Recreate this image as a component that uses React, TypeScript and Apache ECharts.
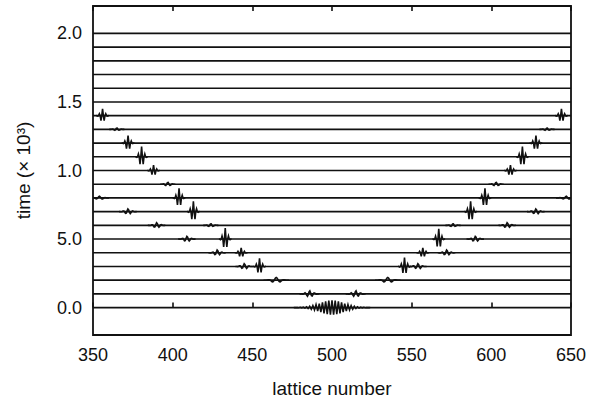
import React, { useEffect, useRef } from "react";
import * as echarts from "echarts";

// time slices (× 10³) at which the chain is drawn
const sliceTimes = [0.0, 0.1, 0.2, 0.3, 0.4, 0.5, 0.6, 0.7, 0.8, 0.9, 1.0, 1.1, 1.2, 1.3, 1.4, 1.5, 1.6, 1.7, 1.8, 1.9, 2.0];

// wave packets: slice time, centre (lattice number),
// amplitude (in time units), half width (lattice units), oscillation period (lattice units)
const packetTime = [0.0, 0.1, 0.1, 0.2, 0.2, 0.3, 0.3, 0.3, 0.3, 0.4, 0.4, 0.4, 0.4, 0.5, 0.5, 0.5, 0.5, 0.6, 0.6, 0.6, 0.6, 0.7, 0.7, 0.7, 0.7, 0.8, 0.8, 0.8, 0.8, 0.9, 0.9, 1.0, 1.0, 1.1, 1.1, 1.2, 1.2, 1.3, 1.3, 1.4, 1.4];
const packetCenter = [500, 486, 515, 465, 535, 445, 454.5, 545.5, 554, 428, 443, 557, 572, 409, 433, 567, 590, 390, 424, 576, 610, 372, 413, 587, 628, 354, 404, 596, 647, 397, 603, 388, 612, 380.5, 619.5, 372, 628, 365, 635, 356, 644];
const packetAmp = [0.052, 0.022, 0.022, 0.02, 0.02, 0.02, 0.06, 0.065, 0.02, 0.02, 0.035, 0.035, 0.02, 0.02, 0.08, 0.075, 0.02, 0.02, 0.012, 0.012, 0.02, 0.02, 0.075, 0.075, 0.02, 0.012, 0.07, 0.07, 0.012, 0.015, 0.015, 0.04, 0.04, 0.075, 0.075, 0.055, 0.055, 0.01, 0.01, 0.05, 0.05];
const packetWidth = [15, 4, 4, 5, 5, 3.5, 2.5, 2.5, 3.5, 3.5, 2.5, 2.5, 3.5, 3.5, 2.5, 2.5, 3.5, 3.5, 3, 3, 3.5, 3.5, 2.5, 2.5, 3.5, 4, 2.5, 2.5, 4, 3, 3, 2.5, 2.5, 2.5, 2.5, 2.5, 2.5, 3, 3, 2.5, 2.5];
const packetPeriod = [2, 3, 3, 5, 5, 3, 2, 2, 3, 3, 2, 2, 3, 3, 2, 2, 3, 3, 3, 3, 3, 3, 2, 2, 3, 4, 2, 2, 4, 3, 3, 2, 2, 2, 2, 2, 2, 3, 3, 2, 2];

// axis ticks
const xMin = 350;
const xMax = 650;
const xStep = 50;
const yTickValues = [0, 0.5, 1.0, 1.5, 2.0];
const yTickLabels = ["0.0", "5.0", "1.0", "1.5", "2.0"];

const INK = "#111";
const FONT = "Liberation Sans";

export default function App() {
  const ref = useRef<HTMLDivElement>(null);
  useEffect(() => {
    if (!ref.current) return;
    const chart = echarts.init(ref.current, undefined, { renderer: "svg" });

    const baselineData = sliceTimes.map((t) => [t]);
    const packetData = packetTime.map((t, i) => [t, packetCenter[i], packetAmp[i], packetWidth[i], packetPeriod[i]]);

    const option: any = {
      animation: false,
      backgroundColor: "#fff",
      grid: {
        left: 93,
        right: 26,
        top: 6,
        bottom: 66,
        show: true,
        borderColor: INK,
        borderWidth: 1.8,
        backgroundColor: "transparent",
      },
      xAxis: [
        {
          type: "value",
          position: "bottom",
          min: xMin,
          max: xMax,
          interval: xStep,
          axisLine: { show: false },
          axisTick: { show: true, inside: true, length: 5, lineStyle: { color: INK, width: 1.6 } },
          splitLine: { show: false },
          axisLabel: { color: INK, fontSize: 18, fontFamily: FONT, margin: 11 },
          name: "lattice number",
          nameLocation: "middle",
          nameGap: 44,
          nameTextStyle: { color: INK, fontSize: 19, fontFamily: FONT },
        },
        {
          type: "value",
          position: "top",
          min: xMin,
          max: xMax,
          interval: xStep,
          axisLine: { show: false },
          axisTick: { show: true, inside: true, length: 5, lineStyle: { color: INK, width: 1.6 } },
          splitLine: { show: false },
          axisLabel: { show: false },
        },
      ],
      yAxis: {
        type: "value",
        min: -0.2,
        max: 2.2,
        axisLine: { show: false },
        axisTick: { show: false },
        splitLine: { show: false },
        axisLabel: {
          color: INK,
          fontSize: 18,
          fontFamily: FONT,
          margin: 11,
          customValues: yTickValues,
          formatter: (v: number) => {
            const i = yTickValues.findIndex((u) => Math.abs(u - v) < 1e-6);
            return i >= 0 ? yTickLabels[i] : "";
          },
        },
        name: "time (× 10³)",
        nameLocation: "middle",
        nameGap: 60,
        nameRotate: 90,
        nameTextStyle: { color: INK, fontSize: 19, fontFamily: FONT },
      },
      series: [
        {
          type: "custom",
          clip: true,
          data: baselineData,
          renderItem: (params: any, api: any) => {
            const t = api.value(0);
            const a = api.coord([xMin, t]);
            const b = api.coord([xMax, t]);
            return {
              type: "line",
              shape: { x1: a[0], y1: a[1], x2: b[0], y2: b[1] },
              style: { stroke: INK, lineWidth: 1.6 },
            };
          },
        },
        {
          type: "custom",
          clip: true,
          data: packetData,
          renderItem: (params: any, api: any) => {
            const t = api.value(0);
            const c = api.value(1);
            const amp = api.value(2);
            const hw = api.value(3);
            const per = api.value(4);
            const step = Math.min(0.5, per / 4);
            const span = hw * 1.6;
            const pts: number[][] = [];
            for (let dx = -span; dx <= span + 1e-9; dx += step) {
              const env = Math.exp(-2 * (dx / hw) * (dx / hw));
              const y = t + amp * env * Math.cos((2 * Math.PI * dx) / per);
              pts.push(api.coord([c + dx, y]));
            }
            return {
              type: "polyline",
              shape: { points: pts },
              style: { stroke: INK, lineWidth: 1.6, fill: "none" },
            };
          },
        },
      ],
    };
    chart.setOption(option);
    return () => chart.dispose();
  }, []);

  return <div ref={ref} style={{ position: "fixed", left: 0, top: 0, width: 597, height: 403 }} />;
}
